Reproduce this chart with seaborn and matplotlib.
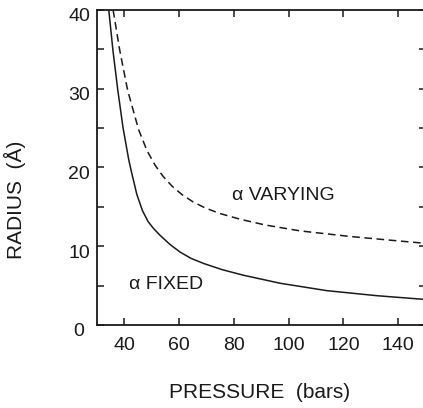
import matplotlib
matplotlib.use("Agg")
import matplotlib.pyplot as plt
import matplotlib.transforms as mtransforms
import seaborn as sns
import pandas as pd

# Data (pressure in bars, radius in Å)
fixed_pressure = [34.31, 35.81, 37.61, 39.51, 41.59, 42.50, 44.55, 46.60, 48.65, 50.69,
                  53.00, 56.69, 60.31, 64.37, 68.90, 75.70, 83.49, 96.91, 113.99, 132.30, 150.0]
fixed_radius = [40.0, 34.90, 29.80, 25.05, 21.00, 19.57, 16.58, 14.53, 13.14, 12.24,
                11.40, 10.22, 9.27, 8.46, 7.82, 7.03, 6.32, 5.30, 4.36, 3.72, 3.24]

varying_pressure = [35.89, 38.30, 41.19, 45.21, 48.28, 51.21, 54.13, 57.42, 61.08, 65.10,
                    69.49, 74.97, 82.29, 91.43, 104.22, 122.50, 137.13, 150.0]
varying_radius = [40.0, 34.90, 29.80, 24.80, 22.13, 20.30, 18.88, 17.63, 16.55, 15.63,
                  14.87, 14.15, 13.43, 12.70, 11.95, 11.24, 10.77, 10.37]

x_ticks = [40, 60, 80, 100, 120, 140]
y_ticks = [0, 10, 20, 30, 40]
y_minor_ticks = [5, 15, 25, 35]

label_varying = "α VARYING"
label_fixed = "α FIXED"
x_label = "PRESSURE  (bars)"
y_label = "RADIUS  (Å)"

df = pd.concat([
    pd.DataFrame({"pressure": fixed_pressure, "radius": fixed_radius, "model": "fixed"}),
    pd.DataFrame({"pressure": varying_pressure, "radius": varying_radius, "model": "varying"}),
])

sns.set_style("ticks")
plt.rcParams["font.family"] = ["Liberation Sans", "DejaVu Sans"]

W, H = 423, 408
fig = plt.figure(figsize=(W / 100, H / 100), dpi=100)
ax = fig.add_axes([97 / W, (H - 325) / H, (425.5 - 97) / W, (325 - 10) / H])

ink = "#1a1a1a"
sns.lineplot(data=df[df.model == "fixed"], x="pressure", y="radius", ax=ax,
             color=ink, linewidth=1.1, sort=False, estimator=None)
sns.lineplot(data=df[df.model == "varying"], x="pressure", y="radius", ax=ax,
             color=ink, linewidth=1.1, sort=False, estimator=None)
ax.lines[1].set_dashes([5, 3])
for ln in ax.lines:
    ln.set_solid_joinstyle("round")
    ln.set_dash_joinstyle("round")

ax.set_xlim(30, 150)
ax.set_ylim(0, 40)
ax.set_xticks(x_ticks)
ax.set_yticks(y_ticks)
ax.set_yticks(y_minor_ticks, minor=True)
ax.tick_params(axis="both", which="both", direction="in", length=5, width=1.1,
               color=ink, labelsize=14, labelcolor=ink)
ax.tick_params(axis="x", which="both", top=True, pad=9)
ax.tick_params(axis="y", which="both", right=True, pad=5)
ax.tick_params(axis="x", which="minor", bottom=False, top=False)

for s in ax.spines.values():
    s.set_visible(True)
    s.set_linewidth(1.3)
    s.set_color(ink)

# y tick labels sit slightly low in the reference; the "0" sits a bit further left
fig.canvas.draw()
for lab in ax.get_yticklabels():
    dx = -6 / 100 if lab.get_text() == "0" else 0
    off = mtransforms.ScaledTranslation(dx, -5 / 100, fig.dpi_scale_trans)
    lab.set_transform(lab.get_transform() + off)

ax.set_xlabel(x_label, fontsize=15, color=ink, va="center")
ax.set_ylabel(y_label, fontsize=15, color=ink, va="center")
ax.xaxis.set_label_coords((260 - 97) / (425.5 - 97), -(392 - 325) / 315)
ax.yaxis.set_label_coords(-(97 - 15) / (425.5 - 97), (325 - 200) / 315)

ax.text(79.4, 16.5, label_varying, fontsize=14, color=ink, ha="left", va="center")
ax.text(41.8, 5.2, label_fixed, fontsize=14, color=ink, ha="left", va="center")

fig.savefig("out.png", dpi=100)
